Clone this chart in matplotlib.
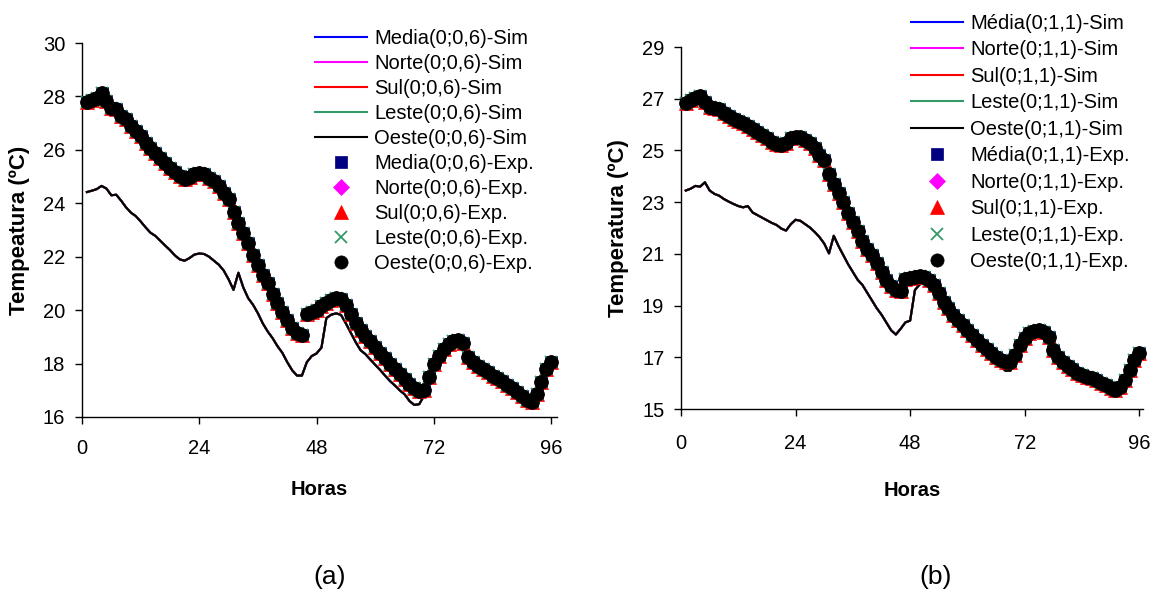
import matplotlib
matplotlib.use("Agg")
import matplotlib.pyplot as plt
from matplotlib.lines import Line2D

plt.rcParams['font.family'] = ['Liberation Sans', 'DejaVu Sans']

hours = list(range(1, 97))

# ---------- Panel (a): (0;0,6) ----------
exp_a_seg1 = [27.79, 27.87, 27.95, 28.12, 27.83, 27.58, 27.52, 27.27, 27.14, 26.89,
              26.70, 26.52, 26.27, 26.08, 25.90, 25.71, 25.50, 25.33, 25.17, 25.02,
              24.90, 25.00, 25.08, 25.12, 25.08, 24.96, 24.83, 24.65, 24.40, 24.15,
              23.69, 23.25, 22.87, 22.50, 22.05, 21.70, 21.32, 21.00, 20.60, 20.25,
              19.94, 19.63, 19.32, 19.13, 19.07]
exp_a_seg2 = [19.84, 19.92, 20.02, 20.15, 20.28, 20.38, 20.45, 20.40, 20.20, 19.85,
              19.50, 19.25, 19.05, 18.85, 18.62, 18.40, 18.20, 18.00, 17.80, 17.60,
              17.42, 17.25, 17.08, 16.97, 17.00, 17.50, 18.00, 18.30, 18.55, 18.75,
              18.85, 18.88, 18.78, 18.25, 18.05, 17.92, 17.80, 17.68, 17.55, 17.45,
              17.33, 17.20, 17.07, 16.93, 16.80, 16.65, 16.57, 16.85, 17.30, 17.80,
              18.07]
exp_a = exp_a_seg1 + exp_a_seg2

sim_a = [24.42, 24.47, 24.53, 24.65, 24.55, 24.30, 24.32, 24.10, 23.85, 23.65,
         23.52, 23.32, 23.10, 22.90, 22.78, 22.60, 22.42, 22.25, 22.05, 21.90,
         21.85, 21.95, 22.08, 22.12, 22.10, 22.00, 21.85, 21.70, 21.48, 21.15,
         20.76, 21.40, 20.85, 20.45, 20.20, 19.88, 19.50, 19.20, 18.95, 18.65,
         18.40, 18.05, 17.75, 17.55, 17.55, 18.05, 18.28, 18.38, 18.60, 19.70,
         19.83, 19.88, 19.82, 19.50, 19.15, 18.80, 18.50, 18.35, 18.15, 17.95,
         17.76, 17.55, 17.35, 17.18, 17.00, 16.85, 16.60, 16.45, 16.48, 16.80,
         17.40, 17.90, 18.20, 18.45, 18.65, 18.75, 18.78, 18.68, 18.20, 18.00,
         17.85, 17.75, 17.62, 17.50, 17.38, 17.25, 17.10, 16.98, 16.85, 16.72,
         16.58, 16.48, 16.70, 17.15, 17.65, 17.95]

# ---------- Panel (b): (0;1,1) ----------
exp_b = [26.85, 26.95, 27.04, 27.10, 26.89, 26.69, 26.63, 26.59, 26.44, 26.33,
         26.23, 26.15, 26.05, 25.95, 25.84, 25.71, 25.58, 25.47, 25.34, 25.26,
         25.21, 25.30, 25.47, 25.53, 25.51, 25.40, 25.28, 25.08, 24.82, 24.63,
         24.10, 23.70, 23.35, 23.00, 22.60, 22.25, 21.90, 21.50, 21.20, 20.95,
         20.63, 20.31, 20.00, 19.75, 19.60, 19.55, 20.02, 20.05, 20.09, 20.14,
         20.12, 19.99, 19.80, 19.47, 19.15, 18.89, 18.64, 18.44, 18.25, 18.06,
         17.86, 17.67, 17.48, 17.31, 17.15, 17.00, 16.90, 16.83, 16.83, 17.09,
         17.48, 17.73, 17.93, 18.03, 18.06, 17.99, 17.80, 17.28, 17.02, 16.83,
         16.66, 16.54, 16.41, 16.32, 16.25, 16.19, 16.12, 16.02, 15.93, 15.83,
         15.74, 15.87, 16.12, 16.51, 16.90, 17.15]

sim_b = [23.45, 23.52, 23.63, 23.60, 23.77, 23.45, 23.32, 23.25, 23.12, 23.02,
         22.93, 22.85, 22.80, 22.85, 22.60, 22.50, 22.40, 22.30, 22.20, 22.12,
         21.98, 21.90, 22.15, 22.32, 22.28, 22.15, 22.02, 21.85, 21.65, 21.40,
         21.02, 21.70, 21.30, 20.95, 20.60, 20.30, 20.00, 19.80, 19.50, 19.20,
         18.90, 18.65, 18.35, 18.05, 17.88, 18.10, 18.35, 18.42, 19.60, 19.82,
         19.88, 19.82, 19.65, 19.30, 18.98, 18.72, 18.50, 18.30, 18.10, 17.90,
         17.70, 17.50, 17.32, 17.15, 16.98, 16.80, 16.62, 16.48, 16.48, 16.80,
         17.30, 17.62, 17.82, 17.92, 17.95, 17.90, 17.70, 17.20, 16.95, 16.75,
         16.58, 16.46, 16.34, 16.25, 16.18, 16.12, 16.05, 15.95, 15.86, 15.76,
         15.68, 15.80, 16.05, 16.42, 16.82, 17.08]

xticks = [0, 24, 48, 72, 96]
yticks_a = [16, 18, 20, 22, 24, 26, 28, 30]
yticks_b = [15, 17, 19, 21, 23, 25, 27, 29]

regions = ["Media", "Norte", "Sul", "Leste", "Oeste"]
regions_b = ["Média", "Norte", "Sul", "Leste", "Oeste"]
sim_colors = ["#0000FF", "#FF00FF", "#FF0000", "#339966", "#000000"]
exp_colors = ["#000080", "#FF00FF", "#FF0000", "#339966", "#000000"]
exp_markers = ["s", "D", "^", "x", "o"]
exp_msize = [8.5, 7.5, 10, 9, 10]
leg_msize = [8.5, 8, 9.5, 9, 9.5]

FS = 14.5

fig = plt.figure(figsize=(11.6, 5.94), dpi=100)
ax1 = fig.add_axes([0.0707, 0.2980, 0.4095, 0.6296])
ax2 = fig.add_axes([0.5871, 0.3114, 0.3983, 0.6094])


def draw(ax, sim, exp, names, code, yticks, ylim, xmax, ylabel, xpad, xlpad):
    handles = []
    for name, c in zip(names, sim_colors):
        ln, = ax.plot(hours, sim, color=c, lw=1.5, zorder=2)
        handles.append((ln, f"{name}({code})-Sim"))
    for name, c, m, ms in zip(names, exp_colors, exp_markers, exp_msize):
        ln, = ax.plot(hours, exp, linestyle="none", marker=m, color=c,
                      markersize=ms, markeredgewidth=1.3 if m == "x" else 0.5,
                      zorder=3, clip_on=False)
        handles.append((ln, f"{name}({code})-Exp."))
    ax.set_xlim(0, xmax)
    ax.set_ylim(*ylim)
    ax.set_xticks(xticks)
    ax.set_yticks(yticks)
    for s in ["top", "right"]:
        ax.spines[s].set_visible(False)
    for s in ["left", "bottom"]:
        ax.spines[s].set_linewidth(1.0)
    ax.tick_params(direction="out", length=5, width=1, labelsize=FS)
    ax.tick_params(axis="x", pad=xpad)
    ax.tick_params(axis="y", pad=7)
    ax.set_xlabel("Horas", fontsize=FS, fontweight="bold", labelpad=xlpad)
    ax.set_ylabel(ylabel, fontsize=16, fontweight="bold", labelpad=9)
    return handles


h1 = draw(ax1, sim_a, exp_a, regions, "0;0,6", yticks_a, (16, 30), 97.2,
          "Tempeatura (ºC)", 11, 16)
h2 = draw(ax2, sim_b, exp_b, regions_b, "0;1,1", yticks_b, (15, 29), 96.8,
          "Temperatura (ºC)", 13, 20)


def legend_handles(h):
    out = []
    i = 0
    for ln, lab in h:
        if ln.get_linestyle() in ("None", "none"):
            hh = Line2D([], [], linestyle="none", marker=ln.get_marker(),
                        color=ln.get_color(), markersize=leg_msize[i],
                        markeredgewidth=ln.get_markeredgewidth())
            i += 1
        else:
            hh = Line2D([], [], color=ln.get_color(), lw=1.5)
        out.append(hh)
    return out


fig.legend(legend_handles(h1), [lab for _, lab in h1], loc="upper left",
           bbox_to_anchor=(315 / 1160, 1 - 29 / 594), frameon=False,
           fontsize=FS, handlelength=2.6, handletextpad=0.33,
           labelspacing=0.30, borderaxespad=0, borderpad=0)
fig.legend(legend_handles(h2), [lab for _, lab in h2], loc="upper left",
           bbox_to_anchor=(911 / 1160, 1 - 14 / 594), frameon=False,
           fontsize=FS, handlelength=2.6, handletextpad=0.33,
           labelspacing=0.37, borderaxespad=0, borderpad=0)

fig.text(330 / 1160, 1 - 577 / 594, "(a)", fontsize=19, ha="center", va="center")
fig.text(936 / 1160, 1 - 577 / 594, "(b)", fontsize=19, ha="center", va="center")

fig.savefig("out.png", dpi=100)
